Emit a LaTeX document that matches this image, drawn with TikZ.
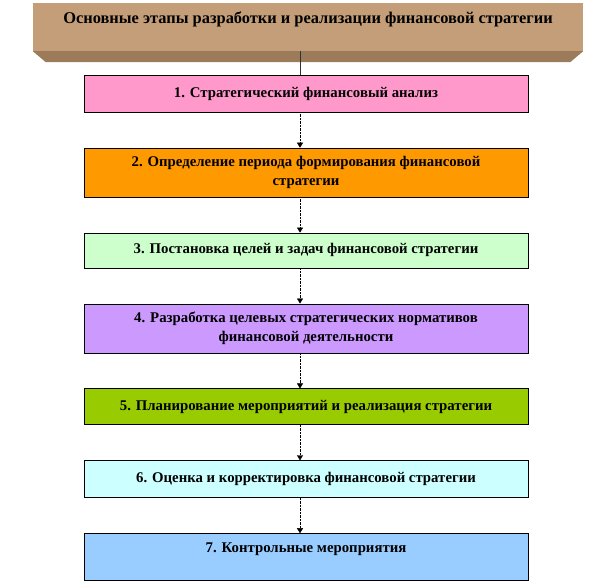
\documentclass[tikz,border=0pt]{standalone}
\usepackage{fontspec}
\setmainfont{Liberation Serif}
\usepackage{tikz}
\usetikzlibrary{
	arrows.meta,
	positioning,
	calc
}
\definecolor{titlebrown}{HTML}{C49E78}
\definecolor{bevelbrown}{HTML}{9C7B5A}
\definecolor{pinkstep}{HTML}{FF99CC}
\definecolor{orangestep}{HTML}{FF9900}
\definecolor{greenstep}{HTML}{CCFFCC}
\definecolor{lilacstep}{HTML}{CC99FF}
\definecolor{olivestep}{HTML}{99CC00}
\definecolor{cyanstep}{HTML}{CCFFFF}
\definecolor{bluestep}{HTML}{99CCFF}

\begin{document}
\begin{tikzpicture}[x=1pt, y=-1pt,
				stepbox/.style={
					rectangle, draw, thin,
					minimum width=444pt, inner sep=0pt,
					align=center, font=\fontsize{14.8}{19}\selectfont\bfseries
				},
				titlebox/.style={
					rectangle, fill=titlebrown, inner sep=0pt,
					minimum width=550pt, minimum height=48pt,
					text depth=19pt, font=\fontsize{16.4}{19}\selectfont\bfseries
				},
				link/.style={-{Triangle[width=6pt,length=5pt]}, densely dotted, thin},
				stem/.style={thin, black!80},
				]
				\useasboundingbox (0,0) rectangle (612,582);
				\coordinate (axis) at (300,0);
				
				%title
				\node[titlebox] (title) at (308,27) {Основные этапы разработки и реализации финансовой стратегии};
				\fill[bevelbrown] (title.south west) -- (title.south east) -- ++(-13,11) -- ($(title.south west)+(13,11)$) -- cycle;
				
				%steps
				\node[stepbox, fill=pinkstep, minimum height=37pt] (s1) at (306,93.5) {1. Стратегический финансовый анализ};
				\draw[stem] (title.south -| axis) -- (s1.north -| axis);
				
				\node[stepbox, fill=orangestep, minimum height=49pt, below=35.5pt of s1] (s2) {2. Определение периода формирования финансовой\\стратегии};
				\draw[link] (s1.south -| axis) -- (s2.north -| axis);
				
				\node[stepbox, fill=greenstep, minimum height=35pt, below=35.5pt of s2] (s3) {3. Постановка целей и задач финансовой стратегии};
				\draw[link] (s2.south -| axis) -- (s3.north -| axis);
				
				\node[stepbox, fill=lilacstep, minimum height=49pt, below=35.5pt of s3] (s4) {4. Разработка целевых стратегических нормативов\\финансовой деятельности};
				\draw[link] (s3.south -| axis) -- (s4.north -| axis);
				
				\node[stepbox, fill=olivestep, minimum height=36pt, below=35.5pt of s4] (s5) {5. Планирование мероприятий и реализация стратегии};
				\draw[link] (s4.south -| axis) -- (s5.north -| axis);
				
				\node[stepbox, fill=cyanstep, minimum height=37pt, below=35.5pt of s5] (s6) {6. Оценка и корректировка финансовой стратегии};
				\draw[link] (s5.south -| axis) -- (s6.north -| axis);
				
				\node[stepbox, fill=bluestep, minimum height=47pt, text depth=18pt, below=35.5pt of s6] (s7) {7. Контрольные мероприятия};
				\draw[link] (s6.south -| axis) -- (s7.north -| axis);
\end{tikzpicture}
\end{document}
